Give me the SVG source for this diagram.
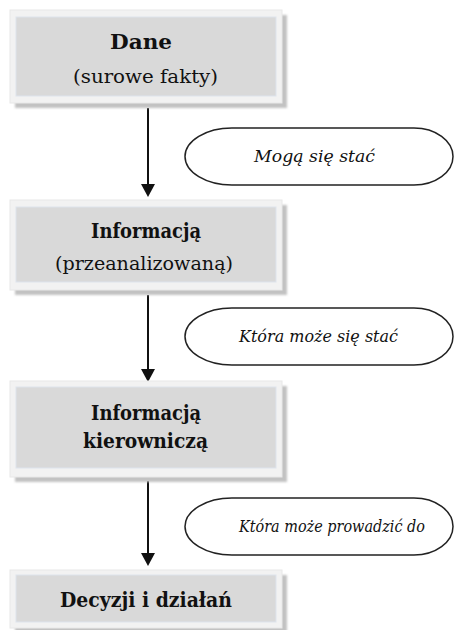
<svg xmlns="http://www.w3.org/2000/svg" width="455" height="630" viewBox="0 0 455 630">
<style>
.shadow{fill:#c2c2c2}
.frame{fill:#f2f2f2;stroke:#e8e8e8;stroke-width:1}
.inner{fill:#d9d9d9;stroke:#dde3ec;stroke-width:1}
.t{font-family:"DejaVu Serif","Liberation Serif",serif;fill:#111;text-anchor:start}
.b{font-weight:bold;font-size:21px}
.r{font-size:19px}
.i{font-style:italic;font-size:17px}
.conn{stroke:#111;stroke-width:2;fill:none}
.pill{fill:#fff;stroke:#222;stroke-width:1.5}
</style>
<defs>
<filter id="blur" x="-5%" y="-5%" width="110%" height="110%"><feGaussianBlur stdDeviation="1"/></filter>
</defs>
<rect width="455" height="630" fill="#fff"/>
<g id="connectors">
<line class="conn" x1="148" y1="108" x2="148" y2="186"/>
<path d="M141,184 L155,184 L148,197 Z" fill="#111"/>
<line class="conn" x1="148" y1="295" x2="148" y2="371"/>
<path d="M141,369 L155,369 L148,382 Z" fill="#111"/>
<line class="conn" x1="148" y1="481" x2="148" y2="555"/>
<path d="M141,553 L155,553 L148,566 Z" fill="#111"/>
</g>
<g id="node-dane">
<rect class="shadow" x="15" y="15" width="272" height="93" filter="url(#blur)"/>
<rect class="frame" x="10" y="10" width="272" height="93"/>
<rect class="inner" x="16" y="17" width="260" height="79"/>
<text class="t b" x="110" y="49" textLength="62" lengthAdjust="spacingAndGlyphs">Dane</text>
<text class="t r" x="73" y="83" textLength="145" lengthAdjust="spacingAndGlyphs">(surowe fakty)</text>
</g>
<g id="label-1">
<path class="pill" d="M232,128 H414 A39,28.5 0 0 1 414,185 H232 A47,28.5 0 0 1 232,128 Z"/>
<text class="t i" x="254" y="162" textLength="121" lengthAdjust="spacingAndGlyphs">Mogą się stać</text>
</g>
<g id="node-informacja">
<rect class="shadow" x="15" y="205" width="272" height="90" filter="url(#blur)"/>
<rect class="frame" x="10" y="200" width="272" height="90"/>
<rect class="inner" x="16" y="207" width="260" height="75"/>
<text class="t b" x="91" y="238" textLength="110" lengthAdjust="spacingAndGlyphs">Informacją</text>
<text class="t r" x="55" y="270" textLength="178" lengthAdjust="spacingAndGlyphs">(przeanalizowaną)</text>
</g>
<g id="label-2">
<path class="pill" d="M232,308 H414 A39,28.5 0 0 1 414,365 H232 A47,28.5 0 0 1 232,308 Z"/>
<text class="t i" x="239" y="342" textLength="159" lengthAdjust="spacingAndGlyphs">Która może się stać</text>
</g>
<g id="node-kierownicza">
<rect class="shadow" x="15" y="386" width="272" height="96" filter="url(#blur)"/>
<rect class="frame" x="10" y="381" width="272" height="96"/>
<rect class="inner" x="16" y="387" width="260" height="81"/>
<text class="t b" x="91" y="420" textLength="110" lengthAdjust="spacingAndGlyphs">Informacją</text>
<text class="t b" x="83" y="448" textLength="125" lengthAdjust="spacingAndGlyphs">kierowniczą</text>
</g>
<g id="label-3">
<path class="pill" d="M232,498 H414 A39,28.5 0 0 1 414,555 H232 A47,28.5 0 0 1 232,498 Z"/>
<text class="t i" x="239" y="532" textLength="186" lengthAdjust="spacingAndGlyphs">Która może prowadzić do</text>
</g>
<g id="node-decyzje">
<rect class="shadow" x="15" y="575" width="272" height="58" filter="url(#blur)"/>
<rect class="frame" x="10" y="570" width="272" height="58"/>
<rect class="inner" x="16" y="575" width="260" height="47"/>
<text class="t b" x="60" y="607" textLength="172" lengthAdjust="spacingAndGlyphs">Decyzji i działań</text>
</g>
</svg>
